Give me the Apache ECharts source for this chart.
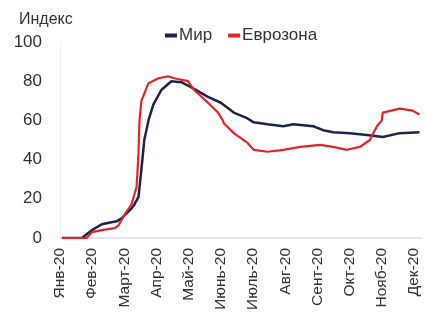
<!DOCTYPE html>
<html>
<head>
<meta charset="utf-8">
<script src="https://cdn.jsdelivr.net/npm/echarts@6/dist/echarts.min.js"></script>
<style>
  html, body { margin: 0; padding: 0; background: #fff; }
  #chart { width: 426px; height: 316px; }
</style>
</head>
<body>
<div id="chart"></div>
<script>
// month labels on the x axis
var months = ['Янв-20','Фев-20','Март-20','Апр-20','Май-20','Июнь-20','Июль-20','Авг-20','Сент-20','Окт-20','Нояб-20','Дек-20'];

// position in months (0 = Jan) and index values
var mirPos = [0.06,0.68,0.99,1.30,1.60,1.76,1.91,2.22,2.31,2.44,2.53,2.62,2.75,2.90,3.15,3.46,3.77,4.07,4.60,5.00,5.40,5.83,6.02,6.45,6.94,7.25,7.87,8.18,8.49,9.01,9.54,10.03,10.56,11.17];
var mirVal = [0,0,4,7,8,8.5,10,15,17,21,35,50,60,68,75.5,80,79.5,77,72,69,64,61,59,58,57,58,57,55,54,53.5,52.5,51.5,53.5,54];

var ezPos = [0.06,0.83,0.99,1.30,1.70,1.82,2.01,2.22,2.38,2.44,2.47,2.53,2.75,3.06,3.36,3.55,3.98,4.17,4.60,4.91,5.06,5.09,5.40,5.83,6.02,6.45,6.94,7.47,8.09,8.49,8.92,9.32,9.63,9.85,10.00,10.03,10.56,10.96,11.17];
var ezVal = [0,0,3,4,5,6.5,12,17,26,43,60,70,79,81.5,82.5,81.5,80,75.5,69,64,60,58.5,53.5,48.5,45,44,45,46.5,47.5,46.5,45,46.5,50,57,60,64,66,65,63];

var yTicks = [0, 20, 40, 60, 80, 100];

function pairs(xs, ys) {
    var out = [];
    for (var i = 0; i < xs.length; i++) out.push([xs[i], ys[i]]);
    return out;
}

var myChart = echarts.init(document.getElementById('chart'));
var option = {
    animation: false,
    textStyle: { fontFamily: 'Liberation Sans, Arial, sans-serif' },
    title: {
        text: 'Индекс',
        left: 14, top: 7,
        textStyle: { fontSize: 16, fontWeight: 'normal', color: '#333' }
    },
    legend: {
        data: ['Мир', 'Еврозона'],
        left: 160, top: 22,
        itemWidth: 12, itemHeight: 4, itemGap: 16,
        icon: 'rect',
        textStyle: { fontSize: 17, color: '#333', padding: [0, 0, 0, -3] }
    },
    grid: { left: 60, right: 4, top: 42, bottom: 78 },
    xAxis: {
        type: 'value',
        min: 0, max: 11.25, interval: 1,
        axisLine: { lineStyle: { color: '#ddd', width: 1.5 } },
        axisTick: { show: false },
        splitLine: { show: false },
        axisLabel: {
            rotate: 90, margin: 10, fontSize: 15.5, color: '#333',
            hideOverlap: false,
            showMaxLabel: false,
            formatter: function (v) { return months[Math.round(v)] || ''; }
        }
    },
    yAxis: {
        type: 'value',
        min: yTicks[0], max: yTicks[yTicks.length - 1], interval: 20,
        axisLine: { show: true, lineStyle: { color: '#eee' } },
        axisTick: { show: false },
        splitLine: { show: false },
        axisLabel: { fontSize: 17, color: '#333', margin: 18 }
    },
    series: [{
        name: 'Мир',
        type: 'line',
        data: pairs(mirPos, mirVal),
        showSymbol: false,
        lineStyle: { color: '#1c2448', width: 2.5 },
        itemStyle: { color: '#1c2448' }
    }, {
        name: 'Еврозона',
        type: 'line',
        data: pairs(ezPos, ezVal),
        showSymbol: false,
        lineStyle: { color: '#e0252b', width: 2.2 },
        itemStyle: { color: '#e0252b' }
    }]
};
myChart.setOption(option, true);
</script>
</body>
</html>
